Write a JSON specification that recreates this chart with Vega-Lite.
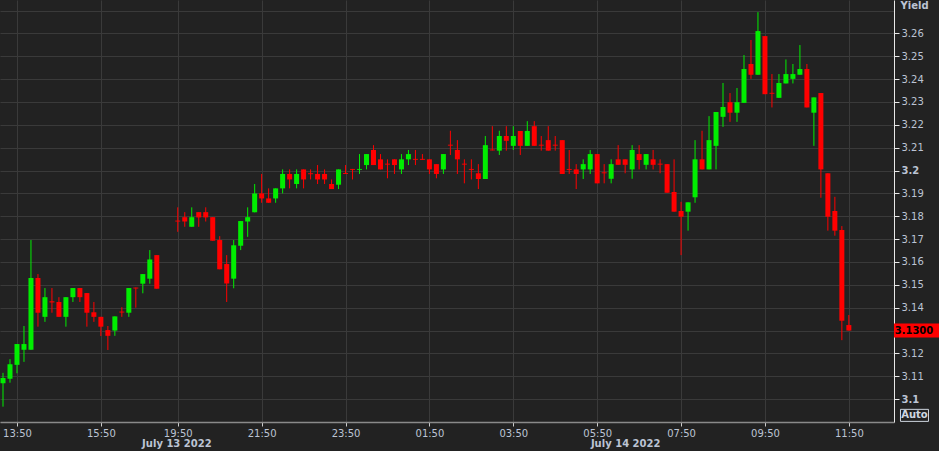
{
  "$schema": "https://vega.github.io/schema/vega-lite/v6.json",
  "width": 894,
  "height": 422,
  "autosize": {"type": "none"},
  "padding": {"left": 0, "top": 0, "right": 45, "bottom": 29},
  "background": "#222222",
  "config": {"view": {"stroke": null, "fill": "#222222"}, "font": "DejaVu Sans"},
  "datasets": {
    "candles": [
      {"k":-2,"o":3.1070,"h":3.1115,"l":3.0967,"c":3.1093},
      {"k":-1,"o":3.1089,"h":3.1175,"l":3.1072,"c":3.1153},
      {"k":0,"o":3.1150,"h":3.1241,"l":3.1113,"c":3.1241},
      {"k":1,"o":3.1216,"h":3.1320,"l":3.1163,"c":3.1241},
      {"k":2,"o":3.1216,"h":3.1696,"l":3.1216,"c":3.1530},
      {"k":3,"o":3.1530,"h":3.1547,"l":3.1317,"c":3.1378},
      {"k":4,"o":3.1360,"h":3.1486,"l":3.1338,"c":3.1446},
      {"k":5,"o":3.1428,"h":3.1486,"l":3.1378,"c":3.1423},
      {"k":6,"o":3.1425,"h":3.1446,"l":3.1360,"c":3.1360},
      {"k":7,"o":3.1360,"h":3.1446,"l":3.1317,"c":3.1446},
      {"k":8,"o":3.1446,"h":3.1486,"l":3.1425,"c":3.1486},
      {"k":9,"o":3.1486,"h":3.1486,"l":3.1425,"c":3.1446},
      {"k":10,"o":3.1464,"h":3.1464,"l":3.1317,"c":3.1378},
      {"k":11,"o":3.1380,"h":3.1425,"l":3.1338,"c":3.1360},
      {"k":12,"o":3.1360,"h":3.1360,"l":3.1276,"c":3.1317},
      {"k":13,"o":3.1302,"h":3.1320,"l":3.1215,"c":3.1277},
      {"k":14,"o":3.1300,"h":3.1362,"l":3.1277,"c":3.1362},
      {"k":15,"o":3.1383,"h":3.1402,"l":3.1360,"c":3.1379},
      {"k":16,"o":3.1378,"h":3.1486,"l":3.1360,"c":3.1486},
      {"k":17,"o":3.1488,"h":3.1488,"l":3.1400,"c":3.1484},
      {"k":18,"o":3.1505,"h":3.1547,"l":3.1463,"c":3.1547},
      {"k":19,"o":3.1527,"h":3.1652,"l":3.1505,"c":3.1611},
      {"k":20,"o":3.1630,"h":3.1630,"l":3.1483,"c":3.1483},
      {"k":23,"o":3.1781,"h":3.1839,"l":3.1732,"c":3.1777},
      {"k":24,"o":3.1796,"h":3.1818,"l":3.1754,"c":3.1777},
      {"k":25,"o":3.1754,"h":3.1839,"l":3.1754,"c":3.1796},
      {"k":26,"o":3.1818,"h":3.1818,"l":3.1754,"c":3.1795},
      {"k":27,"o":3.1818,"h":3.1839,"l":3.1777,"c":3.1795},
      {"k":28,"o":3.1796,"h":3.1796,"l":3.1693,"c":3.1693},
      {"k":29,"o":3.1696,"h":3.1713,"l":3.1568,"c":3.1568},
      {"k":30,"o":3.1591,"h":3.1630,"l":3.1425,"c":3.1506},
      {"k":31,"o":3.1527,"h":3.1696,"l":3.1485,"c":3.1673},
      {"k":32,"o":3.1671,"h":3.1779,"l":3.1652,"c":3.1779},
      {"k":33,"o":3.1777,"h":3.1839,"l":3.1710,"c":3.1796},
      {"k":34,"o":3.1817,"h":3.1941,"l":3.1817,"c":3.1900},
      {"k":35,"o":3.1900,"h":3.1985,"l":3.1859,"c":3.1878},
      {"k":36,"o":3.1878,"h":3.1922,"l":3.1859,"c":3.1859},
      {"k":37,"o":3.1878,"h":3.1922,"l":3.1859,"c":3.1922},
      {"k":38,"o":3.1922,"h":3.2005,"l":3.1900,"c":3.1985},
      {"k":39,"o":3.1985,"h":3.2005,"l":3.1922,"c":3.1961},
      {"k":40,"o":3.1941,"h":3.2005,"l":3.1922,"c":3.1985},
      {"k":41,"o":3.2005,"h":3.2005,"l":3.1922,"c":3.1961},
      {"k":42,"o":3.1988,"h":3.2005,"l":3.1961,"c":3.1984},
      {"k":43,"o":3.1985,"h":3.2024,"l":3.1941,"c":3.1961},
      {"k":44,"o":3.1985,"h":3.2005,"l":3.1941,"c":3.1961},
      {"k":45,"o":3.1941,"h":3.1961,"l":3.1919,"c":3.1919},
      {"k":46,"o":3.1938,"h":3.2005,"l":3.1919,"c":3.2005},
      {"k":47,"o":3.1989,"h":3.2024,"l":3.1985,"c":3.1985},
      {"k":48,"o":3.2007,"h":3.2007,"l":3.1961,"c":3.2003},
      {"k":49,"o":3.2003,"h":3.2072,"l":3.1985,"c":3.2007},
      {"k":50,"o":3.2024,"h":3.2072,"l":3.2005,"c":3.2072},
      {"k":51,"o":3.2090,"h":3.2111,"l":3.2024,"c":3.2024},
      {"k":52,"o":3.2049,"h":3.2072,"l":3.2005,"c":3.2005},
      {"k":53,"o":3.2030,"h":3.2049,"l":3.1966,"c":3.2026},
      {"k":54,"o":3.2049,"h":3.2049,"l":3.1985,"c":3.2024},
      {"k":55,"o":3.2005,"h":3.2072,"l":3.1985,"c":3.2049},
      {"k":56,"o":3.2049,"h":3.2090,"l":3.2024,"c":3.2072},
      {"k":57,"o":3.2051,"h":3.2090,"l":3.2024,"c":3.2047},
      {"k":58,"o":3.2051,"h":3.2072,"l":3.2047,"c":3.2047},
      {"k":59,"o":3.2049,"h":3.2049,"l":3.1985,"c":3.2005},
      {"k":60,"o":3.2028,"h":3.2028,"l":3.1966,"c":3.1985},
      {"k":61,"o":3.2005,"h":3.2072,"l":3.1985,"c":3.2072},
      {"k":62,"o":3.2113,"h":3.2174,"l":3.2068,"c":3.2109},
      {"k":63,"o":3.2090,"h":3.2133,"l":3.1985,"c":3.2049},
      {"k":64,"o":3.2030,"h":3.2049,"l":3.1944,"c":3.2026},
      {"k":65,"o":3.2007,"h":3.2049,"l":3.1961,"c":3.2003},
      {"k":66,"o":3.1988,"h":3.2028,"l":3.1919,"c":3.1963},
      {"k":67,"o":3.1963,"h":3.2151,"l":3.1963,"c":3.2111},
      {"k":68,"o":3.2092,"h":3.2194,"l":3.2088,"c":3.2088},
      {"k":69,"o":3.2087,"h":3.2174,"l":3.2068,"c":3.2151},
      {"k":70,"o":3.2151,"h":3.2194,"l":3.2087,"c":3.2130},
      {"k":71,"o":3.2108,"h":3.2194,"l":3.2090,"c":3.2151},
      {"k":72,"o":3.2173,"h":3.2173,"l":3.2068,"c":3.2108},
      {"k":73,"o":3.2108,"h":3.2216,"l":3.2108,"c":3.2173},
      {"k":74,"o":3.2194,"h":3.2216,"l":3.2108,"c":3.2108},
      {"k":75,"o":3.2113,"h":3.2151,"l":3.2087,"c":3.2109},
      {"k":76,"o":3.2133,"h":3.2194,"l":3.2087,"c":3.2087},
      {"k":77,"o":3.2113,"h":3.2151,"l":3.2087,"c":3.2109},
      {"k":78,"o":3.2133,"h":3.2133,"l":3.1985,"c":3.1985},
      {"k":79,"o":3.2007,"h":3.2090,"l":3.1985,"c":3.2003},
      {"k":80,"o":3.2005,"h":3.2028,"l":3.1919,"c":3.1985},
      {"k":81,"o":3.2005,"h":3.2049,"l":3.1963,"c":3.2028},
      {"k":82,"o":3.2005,"h":3.2090,"l":3.1985,"c":3.2072},
      {"k":83,"o":3.2072,"h":3.2072,"l":3.1944,"c":3.1944},
      {"k":84,"o":3.1992,"h":3.2028,"l":3.1944,"c":3.1988},
      {"k":85,"o":3.1964,"h":3.2049,"l":3.1944,"c":3.2028},
      {"k":86,"o":3.2049,"h":3.2111,"l":3.2025,"c":3.2025},
      {"k":87,"o":3.2049,"h":3.2049,"l":3.1988,"c":3.2025},
      {"k":88,"o":3.2005,"h":3.2111,"l":3.1964,"c":3.2090},
      {"k":89,"o":3.2072,"h":3.2111,"l":3.2005,"c":3.2046},
      {"k":90,"o":3.2025,"h":3.2072,"l":3.2005,"c":3.2072},
      {"k":91,"o":3.2049,"h":3.2090,"l":3.2005,"c":3.2025},
      {"k":92,"o":3.2030,"h":3.2049,"l":3.1988,"c":3.2026},
      {"k":93,"o":3.2028,"h":3.2028,"l":3.1903,"c":3.1903},
      {"k":94,"o":3.1906,"h":3.2049,"l":3.1820,"c":3.1820},
      {"k":95,"o":3.1823,"h":3.1863,"l":3.1630,"c":3.1798},
      {"k":96,"o":3.1820,"h":3.1861,"l":3.1737,"c":3.1861},
      {"k":97,"o":3.1883,"h":3.2133,"l":3.1859,"c":3.2049},
      {"k":98,"o":3.2049,"h":3.2174,"l":3.2005,"c":3.2005},
      {"k":99,"o":3.2005,"h":3.2238,"l":3.2005,"c":3.2133},
      {"k":100,"o":3.2108,"h":3.2256,"l":3.2005,"c":3.2256},
      {"k":101,"o":3.2235,"h":3.2383,"l":3.2191,"c":3.2278},
      {"k":102,"o":3.2299,"h":3.2339,"l":3.2213,"c":3.2253},
      {"k":103,"o":3.2253,"h":3.2361,"l":3.2213,"c":3.2299},
      {"k":104,"o":3.2296,"h":3.2505,"l":3.2296,"c":3.2444},
      {"k":105,"o":3.2466,"h":3.2571,"l":3.2401,"c":3.2419},
      {"k":106,"o":3.2419,"h":3.2693,"l":3.2419,"c":3.2610},
      {"k":107,"o":3.2588,"h":3.2588,"l":3.2334,"c":3.2334},
      {"k":108,"o":3.2340,"h":3.2422,"l":3.2276,"c":3.2336},
      {"k":109,"o":3.2318,"h":3.2422,"l":3.2318,"c":3.2383},
      {"k":110,"o":3.2381,"h":3.2486,"l":3.2381,"c":3.2422},
      {"k":111,"o":3.2401,"h":3.2466,"l":3.2381,"c":3.2422},
      {"k":112,"o":3.2419,"h":3.2549,"l":3.2419,"c":3.2444},
      {"k":113,"o":3.2444,"h":3.2466,"l":3.2276,"c":3.2276},
      {"k":114,"o":3.2253,"h":3.2320,"l":3.2108,"c":3.2320},
      {"k":115,"o":3.2339,"h":3.2339,"l":3.1881,"c":3.2005},
      {"k":116,"o":3.1988,"h":3.1988,"l":3.1737,"c":3.1798},
      {"k":117,"o":3.1823,"h":3.1885,"l":3.1715,"c":3.1737},
      {"k":118,"o":3.1740,"h":3.1757,"l":3.1258,"c":3.1343},
      {"k":119,"o":3.1324,"h":3.1368,"l":3.1300,"c":3.1300}
    ],
    "dates": [
      {"k": 22.8, "label": "July 13 2022"},
      {"k": 87, "label": "July 14 2022"}
    ],
    "button": [
      {"label": "Auto", "y": 3.0929}
    ]
  },
  "resolve": {"axis": {"x": "independent"}},
  "layer": [
    {
      "data": {"name": "candles"},
      "encoding": {
        "x": {
          "field": "k",
          "type": "quantitative",
          "scale": {"domain": [-2.43, 125.46], "nice": false, "zero": false, "padding": 0},
          "axis": {
            "orient": "bottom",
            "values": [0, 12, 23, 35, 47, 59, 71, 83, 95, 107, 119],
            "tickCount": 40,
            "labelExpr": "['13:50','15:50','19:50','21:50','23:50','01:50','03:50','05:50','07:50','09:50','11:50'][indexof([0,12,23,35,47,59,71,83,95,107,119], datum.value)]",
            "title": null,
            "grid": true,
            "gridColor": "#3a3a3a",
            "domainColor": "#8a8a8a",
            "domainWidth": 1.5,
            "tickColor": "#cccccc",
            "tickSize": 4,
            "labelPadding": 2,
            "labelColor": "#bcc4d4",
            "labelFontSize": 10,
            "labelFlush": false,
            "labelOverlap": false
          }
        },
        "color": {"condition": {"test": "datum.c > datum.o", "value": "#00ee00"}, "value": "#ff0000"}
      },
      "layer": [
        {
          "mark": {"type": "rule", "strokeWidth": 1},
          "encoding": {
            "y": {
              "field": "l",
              "type": "quantitative",
              "scale": {"domain": [3.09, 3.2746], "nice": false, "zero": false, "padding": 0},
              "axis": {
                "orient": "right",
                "values": [3.09, 3.1, 3.11, 3.12, 3.13, 3.14, 3.15, 3.16, 3.17, 3.18, 3.19, 3.2, 3.21, 3.22, 3.23, 3.24, 3.25, 3.26, 3.27],
                "tickCount": 40,
                "labelExpr": "(datum.value > 3.265 || datum.value < 3.095 || abs(datum.value - 3.13) < 0.001) ? '' : format(datum.value, '~g')",
                "labelFontWeight": {"condition": {"test": "abs(datum.value - 3.2) < 0.001 || abs(datum.value - 3.1) < 0.001", "value": "bold"}, "value": "normal"},
                "tickOpacity": {"condition": {"test": "datum.value > 3.265 || datum.value < 3.095 || abs(datum.value - 3.13) < 0.001", "value": 0}, "value": 1},
                "grid": true,
                "gridColor": "#3a3a3a",
                "domainColor": "#e8e8e8",
                "tickColor": "#e8e8e8",
                "tickSize": 5,
                "labelColor": "#bcc4d4",
                "labelFontSize": 10,
                "labelPadding": 2,
                "labelFlush": false,
                "labelOverlap": false,
                "title": "Yield",
                "titleAngle": 0,
                "titleX": 6,
                "titleY": 8,
                "titleAlign": "left",
                "titleBaseline": "alphabetic",
                "titleFontWeight": "bold",
                "titleFontSize": 10,
                "titleColor": "#bcc4d4"
              }
            },
            "y2": {"field": "h"}
          }
        },
        {
          "mark": {"type": "bar", "size": 5, "orient": "vertical"},
          "encoding": {
            "y": {"field": "o", "type": "quantitative"},
            "y2": {"field": "c"}
          }
        }
      ]
    },
    {
      "data": {"name": "dates"},
      "mark": {"type": "point", "opacity": 0},
      "encoding": {
        "x": {
          "field": "k",
          "type": "quantitative",
          "axis": {
            "orient": "bottom",
            "values": [22.8, 87],
            "labelExpr": "datum.value < 50 ? 'July 13 2022' : 'July 14 2022'",
            "title": null,
            "grid": false,
            "domain": false,
            "ticks": false,
            "tickSize": 0,
            "labelPadding": 16,
            "labelColor": "#bcc4d4",
            "labelFontSize": 10,
            "labelFontWeight": "bold",
            "labelFlush": false,
            "labelOverlap": false
          }
        },
        "y": {"datum": 3.2, "type": "quantitative"}
      }
    },
    {
      "data": {"name": "candles"},
      "transform": [{"filter": "datum.k == 119"}],
      "layer": [
        {
          "mark": {"type": "point", "shape": "M-1,-0.31L1,-0.31L1,0.31L-1,0.31Z", "size": 2025, "filled": true, "color": "#ff0000", "opacity": 1, "strokeWidth": 0},
          "encoding": {
            "x": {"datum": 128.68, "type": "quantitative", "axis": null},
            "y": {"field": "c", "type": "quantitative"}
          }
        },
        {
          "mark": {"type": "text", "align": "center", "baseline": "middle", "fontWeight": "bold", "fontSize": 10, "color": "#000000"},
          "encoding": {
            "x": {"datum": 128.32, "type": "quantitative", "axis": null},
            "y": {"field": "c", "type": "quantitative"},
            "text": {"field": "c", "type": "quantitative", "format": ".4f"}
          }
        }
      ]
    },
    {
      "data": {"name": "button"},
      "layer": [
        {
          "mark": {"type": "point", "shape": "M-1,-0.43L1,-0.43L1,0.43L-1,0.43Z", "size": 784, "filled": false, "stroke": "#cfd6e0", "strokeWidth": 1, "opacity": 1},
          "encoding": {
            "x": {"datum": 128.39, "type": "quantitative", "axis": null},
            "y": {"field": "y", "type": "quantitative"}
          }
        },
        {
          "mark": {"type": "text", "align": "center", "baseline": "middle", "fontWeight": "bold", "fontSize": 10, "color": "#cfd6e0"},
          "encoding": {
            "x": {"datum": 128.39, "type": "quantitative", "axis": null},
            "y": {"field": "y", "type": "quantitative"},
            "text": {"field": "label"}
          }
        }
      ]
    }
  ]
}
